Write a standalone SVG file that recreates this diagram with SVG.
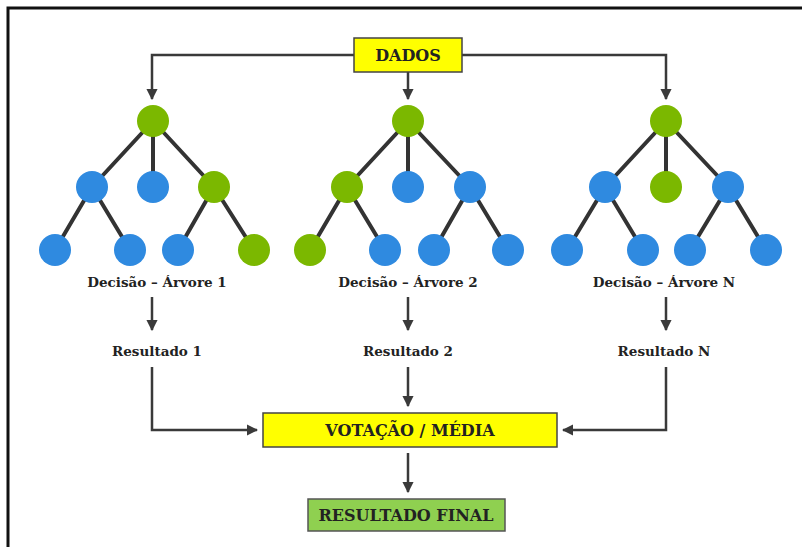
<svg xmlns="http://www.w3.org/2000/svg" width="802" height="547" viewBox="0 0 802 547">
<defs>
<style>
.g{fill:#7bb800}
.b{fill:#2f8ae0}
.e{stroke:#333;stroke-width:4;fill:none}
.c{stroke:#3a3a3a;stroke-width:2.5;fill:none}
.lbl{font-family:"DejaVu Serif",serif;font-weight:bold;font-size:13.5px;fill:#222;text-anchor:middle}
.box{font-family:"DejaVu Serif",serif;font-weight:bold;font-size:16px;fill:#222;text-anchor:middle}
.ybox{fill:#ffff00;stroke:#444;stroke-width:1.5}
.gbox{fill:#8fd050;stroke:#555;stroke-width:1.5}
</style>
<marker id="ah" viewBox="0 0 10 10" refX="9" refY="5" markerWidth="4.5" markerHeight="4.5" orient="auto"><path d="M0,0 L10,5 L0,10 z" fill="#3a3a3a"/></marker>
</defs>
<rect width="802" height="547" fill="#fff"/>
<path d="M8,547 V8 H802" stroke="#111" stroke-width="3" fill="none"/>

<g id="connectors">
<path class="c" d="M354,55 H152 V99" marker-end="url(#ah)"/>
<path class="c" d="M408,72 V99" marker-end="url(#ah)"/>
<path class="c" d="M462,55 H666 V99" marker-end="url(#ah)"/>
<path class="c" d="M152,297 V330" marker-end="url(#ah)"/>
<path class="c" d="M408,297 V330" marker-end="url(#ah)"/>
<path class="c" d="M666,297 V330" marker-end="url(#ah)"/>
<path class="c" d="M152,367 V430 H257" marker-end="url(#ah)"/>
<path class="c" d="M408,367 V406" marker-end="url(#ah)"/>
<path class="c" d="M666,367 V430 H563" marker-end="url(#ah)"/>
<path class="c" d="M408,453 V492" marker-end="url(#ah)"/>
</g>

<g id="dados"><rect class="ybox" x="354" y="38" width="108" height="34"/><text class="box" x="408" y="61">DADOS</text></g>

<g id="tree1">
<path class="e" d="M153,121 L92,187 M153,121 V187 M153,121 L214,187 M92,187 L55,250 M92,187 L130,250 M214,187 L178,250 M214,187 L254,250"/>
<circle class="g" cx="153" cy="121" r="16"/>
<circle class="b" cx="92" cy="187" r="16"/><circle class="b" cx="153" cy="187" r="16"/><circle class="g" cx="214" cy="187" r="16"/>
<circle class="b" cx="55" cy="250" r="16"/><circle class="b" cx="130" cy="250" r="16"/><circle class="b" cx="178" cy="250" r="16"/><circle class="g" cx="254" cy="250" r="16"/>
<text class="lbl" x="157" y="287">Decisão – Árvore 1</text>
</g>

<g id="tree2">
<path class="e" d="M408,121 L347,187 M408,121 V187 M408,121 L470,187 M347,187 L310,250 M347,187 L385,250 M470,187 L434,250 M470,187 L508,250"/>
<circle class="g" cx="408" cy="121" r="16"/>
<circle class="g" cx="347" cy="187" r="16"/><circle class="b" cx="408" cy="187" r="16"/><circle class="b" cx="470" cy="187" r="16"/>
<circle class="g" cx="310" cy="250" r="16"/><circle class="b" cx="385" cy="250" r="16"/><circle class="b" cx="434" cy="250" r="16"/><circle class="b" cx="508" cy="250" r="16"/>
<text class="lbl" x="408" y="287">Decisão – Árvore 2</text>
</g>

<g id="treeN">
<path class="e" d="M666,121 L605,187 M666,121 V187 M666,121 L728,187 M605,187 L567,250 M605,187 L643,250 M728,187 L690,250 M728,187 L766,250"/>
<circle class="g" cx="666" cy="121" r="16"/>
<circle class="b" cx="605" cy="187" r="16"/><circle class="g" cx="666" cy="187" r="16"/><circle class="b" cx="728" cy="187" r="16"/>
<circle class="b" cx="567" cy="250" r="16"/><circle class="b" cx="643" cy="250" r="16"/><circle class="b" cx="690" cy="250" r="16"/><circle class="b" cx="766" cy="250" r="16"/>
<text class="lbl" x="664" y="287">Decisão – Árvore N</text>
</g>

<g id="res1"><text class="lbl" x="157" y="356">Resultado 1</text></g>
<g id="res2"><text class="lbl" x="408" y="356">Resultado 2</text></g>
<g id="resN"><text class="lbl" x="664" y="356">Resultado N</text></g>

<g id="votacao"><rect class="ybox" x="263" y="413" width="294" height="34"/><text class="box" x="410" y="436">VOTAÇÃO / MÉDIA</text></g>
<g id="final"><rect class="gbox" x="308" y="499" width="197" height="32"/><text class="box" x="406" y="521">RESULTADO FINAL</text></g>
</svg>
